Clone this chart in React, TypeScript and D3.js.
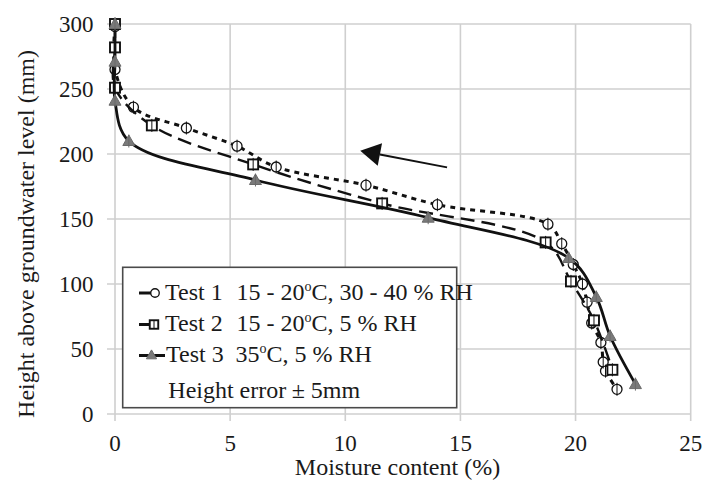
import React from 'react';
import * as d3 from 'd3';

const xTicks = [0, 5, 10, 15, 20, 25];
const yTicks = [0, 50, 100, 150, 200, 250, 300];

const test1Moisture = [0, 0, 0.8, 3.1, 5.3, 7.0, 10.9, 14.0, 18.8, 19.4, 19.9, 20.3, 20.5, 20.7, 21.1, 21.2, 21.3, 21.8];
const test1Height = [298, 265, 236, 220, 206, 190, 176, 161, 146, 131, 115, 100, 86, 70, 55, 40, 33, 19];

const test2Moisture = [0, 0, 0, 1.6, 6.0, 11.6, 18.7, 19.8, 20.8, 21.6];
const test2Height = [300, 282, 251, 222, 192, 162, 132, 102, 72, 34];

const test3Moisture = [0, 0, 0, 0.6, 6.1, 13.6, 19.7, 20.9, 21.5, 22.6];
const test3Height = [300, 271, 241, 210, 180, 151, 120, 90, 60, 23];

const heightError = 5;
const arrowTail: [number, number] = [14.42, 189.7];
const arrowTip: [number, number] = [10.65, 202.5];

const W = 704;
const H = 481;
const FONT = "'Liberation Serif', 'Times New Roman', serif";

const x = d3.scaleLinear().domain([0, 25]).range([115, 690.7]);
const y = d3.scaleLinear().domain([0, 300]).range([414, 24]);

type Marker = 'circle' | 'square' | 'triangle';

const series = [
  { key: 't1', mx: test1Moisture, hy: test1Height, dash: '5,5', width: 3, marker: 'circle' as Marker },
  { key: 't2', mx: test2Moisture, hy: test2Height, dash: '14,7', width: 2.4, marker: 'square' as Marker },
  { key: 't3', mx: test3Moisture, hy: test3Height, dash: '', width: 2.8, marker: 'triangle' as Marker },
];

function MarkerShape({ type, cx, cy, s = 1 }: { type: Marker; cx: number; cy: number; s?: number }) {
  if (type === 'circle') {
    return <circle cx={cx} cy={cy} r={5 * s} fill="#fff" stroke="#111" strokeWidth={1.3} />;
  }
  if (type === 'square') {
    const h = 5 * s;
    return <rect x={cx - h} y={cy - h} width={2 * h} height={2 * h} fill="#fff" stroke="#111" strokeWidth={1.9} />;
  }
  const p = `M${cx},${cy - 6 * s}L${cx + 6 * s},${cy + 4.5 * s}L${cx - 6 * s},${cy + 4.5 * s}Z`;
  return <path d={p} fill="#7a7a7a" stroke="#6a6a6a" strokeWidth={1} />;
}

export default function App() {
  const line = d3
    .line<[number, number]>()
    .x((d) => x(d[0]))
    .y((d) => y(d[1]))
    .curve(d3.curveCatmullRom.alpha(0.5));

  const [tx, ty] = [x(arrowTail[0]), y(arrowTail[1])];
  const [hx, hy] = [x(arrowTip[0]), y(arrowTip[1])];
  const len = Math.hypot(tx - hx, ty - hy);
  const ux = (tx - hx) / len;
  const uy = (ty - hy) / len;
  const bx = hx + ux * 20;
  const by = hy + uy * 20;
  const head = `M${hx},${hy}L${bx - uy * 11.5},${by + ux * 11.5}L${bx + uy * 11.5},${by - ux * 11.5}Z`;

  const txt = '#1a1a1a';

  return (
    <svg width={W} height={H} style={{ position: 'absolute', left: 0, top: 0, background: '#fff' }} fontFamily={FONT}>
      <rect x={0} y={0} width={W} height={H} fill="#fff" />
      {/* grid */}
      {xTicks.map((t) => (
        <line key={'gx' + t} x1={x(t)} x2={x(t)} y1={y(300)} y2={y(0) + 7} stroke="#cfcfcf" strokeWidth={1.6} />
      ))}
      {yTicks.map((t) => (
        <line key={'gy' + t} x1={x(0) - 8} x2={x(25)} y1={y(t)} y2={y(t)} stroke="#cfcfcf" strokeWidth={1.6} />
      ))}
      {/* tick labels */}
      {xTicks.map((t) => (
        <text key={'lx' + t} x={x(t)} y={451} textAnchor="middle" fontSize={23} fill={txt}>
          {t}
        </text>
      ))}
      {yTicks.map((t) => (
        <text key={'ly' + t} x={93.5} y={y(t) + 7.8} textAnchor="end" fontSize={23} fill={txt}>
          {t}
        </text>
      ))}
      {/* axis titles */}
      <text x={397.5} y={475} textAnchor="middle" fontSize={24} fill={txt}>
        Moisture content (%)
      </text>
      <text transform={`translate(33.5,50) rotate(-90)`} textAnchor="end" fontSize={24} fill={txt}>
        Height above groundwater level (mm)
      </text>
      {/* series */}
      {series.map((s) => {
        const pts = s.mx.map((m, i) => [m, s.hy[i]] as [number, number]);
        const col = s.marker === 'triangle' ? '#6a6a6a' : '#111';
        return (
          <g key={s.key}>
            <path d={line(pts) || ''} fill="none" stroke="#111" strokeWidth={s.width} strokeDasharray={s.dash || undefined} />
            {pts.map((p, i) => (
              <MarkerShape key={i} type={s.marker} cx={x(p[0])} cy={y(p[1])} />
            ))}
            {pts.map((p, i) => (
              <line key={'e' + i} x1={x(p[0])} x2={x(p[0])} y1={y(p[1] - heightError)} y2={y(p[1] + heightError)} stroke={col} strokeWidth={1} />
            ))}
          </g>
        );
      })}
      {/* arrow */}
      <line x1={tx} y1={ty} x2={bx} y2={by} stroke="#111" strokeWidth={2} />
      <path d={head} fill="#111" />
      {/* legend */}
      <rect x={122.7} y={267.3} width={334} height={140.4} fill="#fff" stroke="#4a4a4a" strokeWidth={1.6} />
      <g fontSize={24} fill={txt}>
        <line x1={139} x2={152} y1={293} y2={293} stroke="#111" strokeWidth={3} />
        <MarkerShape type="circle" cx={155} cy={293} s={0.85} />
        <text x={165} y={300}>Test 1</text>
        <text x={236.5} y={300}>
          15 - 20<tspan fontSize={14} dy={-9}>o</tspan>
          <tspan dy={9}>C, 30 - 40 % RH</tspan>
        </text>

        <line x1={139} x2={150} y1={324.5} y2={324.5} stroke="#111" strokeWidth={3} />
        <MarkerShape type="square" cx={154} cy={324.5} s={0.85} />
        <line x1={154} x2={154} y1={320} y2={329} stroke="#111" strokeWidth={1} />
        <text x={165} y={331}>Test 2</text>
        <text x={236.5} y={331}>
          15 - 20<tspan fontSize={14} dy={-9}>o</tspan>
          <tspan dy={9}>C, 5 % RH</tspan>
        </text>

        <line x1={139} x2={165} y1={355.5} y2={355.5} stroke="#111" strokeWidth={3} />
        <MarkerShape type="triangle" cx={151.5} cy={355} s={0.85} />
        <text x={166} y={361.5}>Test 3</text>
        <text x={235.5} y={361.5}>
          35<tspan fontSize={14} dy={-9}>o</tspan>
          <tspan dy={9}>C, 5 % RH</tspan>
        </text>

        <text x={168.3} y={398}>Height error</text>
        <text x={291.7} y={398}>± 5mm</text>
      </g>
    </svg>
  );
}
